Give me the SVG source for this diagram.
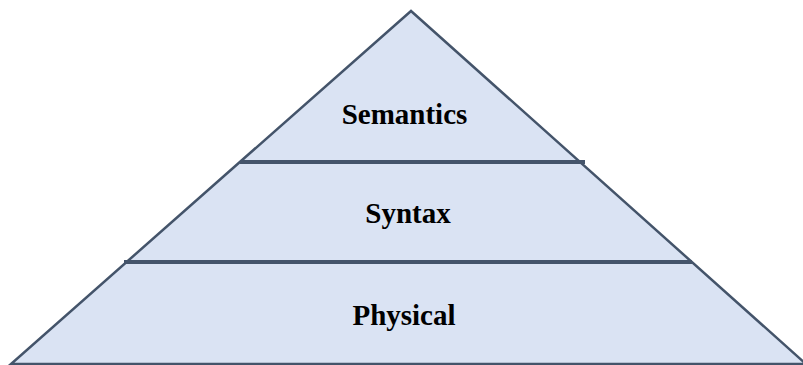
<svg xmlns="http://www.w3.org/2000/svg" width="803" height="365" viewBox="0 0 803 365">
<style>
.lbl{font-family:"Liberation Serif","DejaVu Serif",serif;font-weight:bold;font-size:29px;fill:#000;text-anchor:middle}
.div{stroke:#44546a;stroke-width:4}
</style>
<rect width="803" height="365" fill="#fff"/>
<g id="pyramid">
<polygon points="411,11 11,364 806,364" fill="#dae3f3" stroke="#44546a" stroke-width="2.5" stroke-linejoin="miter"/>
</g>
<g id="connectors">
<line class="div" x1="240" y1="162" x2="585" y2="162"/>
<line class="div" x1="124" y1="262" x2="692" y2="262"/>
</g>
<g id="semantics"><text class="lbl" x="404.5" y="124">Semantics</text></g>
<g id="syntax"><text class="lbl" x="408" y="223">Syntax</text></g>
<g id="physical"><text class="lbl" x="404" y="325">Physical</text></g>
</svg>
